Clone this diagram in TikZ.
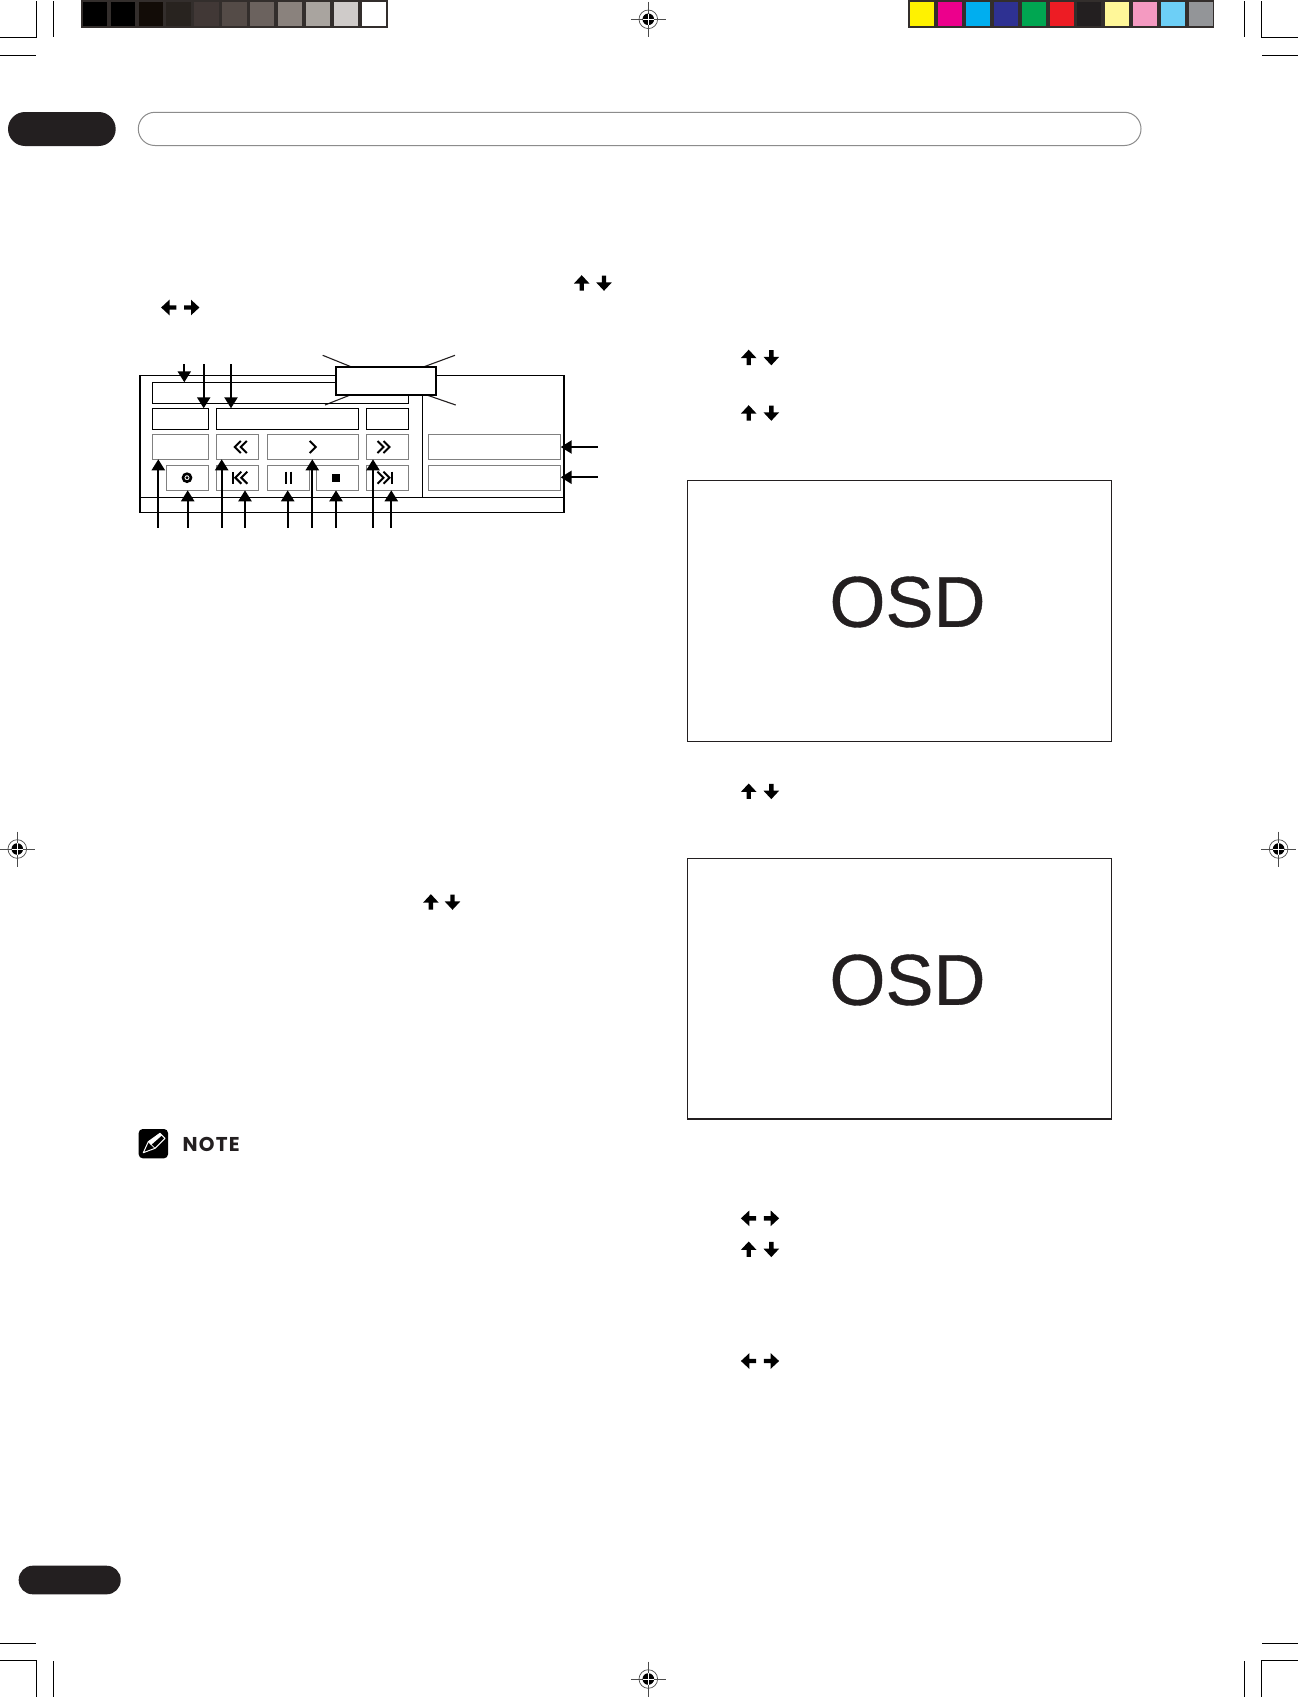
\documentclass[tikz,border=0pt]{standalone}
\usepackage{fontspec}
\usepackage{xcolor}
\usepackage{tikz}
\usetikzlibrary{
  arrows.meta,
  backgrounds
}
\newfontfamily\osdfont[FakeBold=0.5]{Liberation Sans}
\newfontfamily\notefont[LetterSpace=6]{Poppins}
\definecolor{InkDark}{HTML}{231F20}
\definecolor{FrameDark}{HTML}{332E2C}
\definecolor{BoxGray}{HTML}{808080}
\tikzset{
  panelbox/.style={draw=black, line width=1.3pt, anchor=north west, inner sep=0pt, outer sep=0pt},
  softbox/.style={draw=BoxGray, line width=1.2pt, anchor=north west, inner sep=0pt, outer sep=0pt},
  panelline/.style={black, line width=1.3pt},
  callout/.style={black, line width=2.2pt},
  ray/.style={InkDark, line width=1.1pt},
  cropline/.style={black, line width=1pt},
  glyph/.style={black, line width=2pt, miter limit=4},
  osdbox/.style={draw=InkDark, line width=1.3pt, anchor=north west, inner sep=0pt, outer sep=0pt},
  osdtext/.style={InkDark, inner sep=0pt, font=\osdfont\fontsize{72}{72}\selectfont},
  regmark/.pic={
    \draw[black!70, line width=0.7pt] (-17.5,0) -- (17.5,0) (0,-17.5) -- (0,17.5);
    \draw[black!70, line width=0.7pt] (0,0) circle (9.3pt);
    \fill[black] (0,0) circle (5.8pt);
    \draw[white, line width=0.7pt] (-5.8,0) -- (5.8,0) (0,-5.8) -- (0,5.8);
  },
  keyarrow/.pic={
    \fill[black] (0,-7.8) -- (7.8,0.6) -- (2.2,0.6) -- (2.2,7.5) -- (-2.2,7.5) -- (-2.2,0.6) -- (-7.8,0.6) -- cycle;
  },
  chevone/.pic={
    \draw[glyph] (-3,-6) -- (3,0) -- (-3,6);
  },
  chevtwo/.pic={
    \draw[glyph] (-6.5,-6) -- (-0.5,0) -- (-6.5,6);
    \draw[glyph] (-0.5,-6) -- (5.5,0) -- (-0.5,6);
  },
  chevbar/.pic={
    \draw[glyph] (-7.5,-6) -- (-1.5,0) -- (-7.5,6);
    \draw[glyph] (-1.5,-6) -- (4.5,0) -- (-1.5,6);
    \draw[glyph] (6.5,-6) -- (6.5,6);
  }
}

\begin{document}
\begin{tikzpicture}[x=1pt,y=-1pt,
  >={Triangle[width=13pt,length=11pt]}]
  \useasboundingbox (0,0) rectangle (1298,1697);
  \begin{pgfonlayer}{background}
    \fill[white] (0,0) rectangle (1298,1697);
  \end{pgfonlayer}

  % ---------- colour bars ----------
  \fill[FrameDark] (81,0) rectangle (387.7,27.7);
  \foreach \c [count=\i from 0] in {000000,000000,120C07,28231F,413836,544B47,6B625E,8A827D,A9A49F,CFCBC9,FFFFFF} {
    \definecolor{swatch}{HTML}{\c}
    \fill[swatch] ({82.7+27.9*\i},2) rectangle ({107+27.9*\i},26);
  }
  \fill[FrameDark] (908.3,0) rectangle (1214,27.7);
  \foreach \c [count=\i from 0] in {FFF200,EC008C,00AEEF,2E3192,00A651,ED1C24,231F20,FFF799,F49AC1,6DCFF6,939598} {
    \definecolor{swatch}{HTML}{\c}
    \fill[swatch] ({910+27.9*\i},2) rectangle ({934+27.9*\i},26);
  }

  % ---------- crop marks ----------
  \draw[cropline] (36.3,1) -- (36.3,37) -- (0,37);
  \draw[cropline] (53.3,1) -- (53.3,36.7);
  \draw[cropline] (0,55.3) -- (36,55.3);
  \draw[cropline] (1261.7,1) -- (1261.7,37) -- (1298,37);
  \draw[cropline] (1244.3,1) -- (1244.3,36.7);
  \draw[cropline] (1262,55.3) -- (1298,55.3);
  \draw[cropline] (36.3,1697) -- (36.3,1660) -- (0,1660);
  \draw[cropline] (53.3,1661) -- (53.3,1697);
  \draw[cropline] (0,1643.3) -- (36,1643.3);
  \draw[cropline] (1261.5,1697) -- (1261.5,1660.3) -- (1298,1660.3);
  \draw[cropline] (1244.3,1661) -- (1244.3,1697);
  \draw[cropline] (1262,1643.3) -- (1298,1643.3);

  % registration marks
  \foreach \x/\y in {648.3/19.3,17.3/849,1278.6/849,648.3/1679}
    \pic at (\x,\y) {regmark};

  % ---------- header and footer bars ----------
  \fill[InkDark, rounded corners=17pt] (8,112) rectangle (115.7,146);
  \draw[black!45, line width=1pt, rounded corners=16.5pt] (138.3,112.3) rectangle (1141,145.5);
  \fill[InkDark, rounded corners=14pt] (18.7,1565.7) rectangle (120.7,1594.3);

  % ---------- key arrows ----------
  \foreach \x/\y/\a in {581.7/283/0,604/283/180,168.9/307.5/90,191.6/307.5/-90,
      748.7/357.5/0,771.3/357.5/180,748.7/413/0,771.3/413/180,748.7/791.3/0,771.3/791.3/180,
      430.9/902/0,452.5/902/180,748.7/1218.3/90,771.3/1218.3/-90,748.7/1249.3/0,771.3/1249.3/180,
      748.7/1361/90,771.3/1361/-90}
    \pic[rotate=\a] at (\x,\y) {keyarrow};

  % ---------- control panel ----------
  \node[panelbox, minimum width=424pt, minimum height=137pt] (panel) at (140,375.3) {};
  \coordinate (divfoot) at (422.3,497.3);
  \draw[panelline] (panel.west |- divfoot) -- (panel.east |- divfoot);
  \draw[panelline] (panel.north -| divfoot) -- (divfoot);

  \foreach \n/\x/\y/\w/\h in {title/152.3/382.3/256/21,chapter/152.3/408.3/56.4/21,
      clock/216.3/408.3/142.4/21,track/366.3/408.3/42/21}
    \node[panelbox, minimum width=\w pt, minimum height=\h pt] (\n) at (\x,\y) {};

  \foreach \n/\x/\y/\w/\h in {mode/152.3/434.3/56.4/25,rewind/216.3/434.3/42.4/25,
      play/267.3/434.3/91.4/25,forward/366.3/434.3/42/25,
      record/166.3/465.3/42.4/25,prev/216.3/465.3/42.4/25,pause/267.3/465.3/42.4/25,
      stop/316.3/465.3/42.4/25,next/366.3/465.3/42/25,
      listtop/428.3/434.3/132.4/25,listend/428.3/465.3/132.4/25}
    \node[softbox, minimum width=\w pt, minimum height=\h pt] (\n) at (\x,\y) {};

  % transport glyphs
  \pic[rotate=180] at (240.3,447) {chevtwo};
  \pic at (312.7,447) {chevone};
  \pic at (384,447) {chevtwo};
  \pic[rotate=180] at (239.8,477.7) {chevbar};
  \pic at (385,477.7) {chevbar};
  \draw[black, line width=2.6pt] (187,477.7) circle (4pt);
  \fill[black] (187,477.7) circle (1.6pt);
  \draw[black, line width=2pt] (285.7,471.7) -- (285.7,483.5) (291,471.7) -- (291,483.5);
  \fill[black] (332.3,473.5) rectangle (340,481.7);

  % highlighted window with its rays
  \node[panelbox, fill=white, line width=2.2pt, minimum width=100.3pt, minimum height=28.3pt] (hilite) at (335.7,366.7) {};
  \coordinate (rayA) at (322.7,355.3);
  \coordinate (rayB) at (455,355.3);
  \coordinate (rayC) at (325,405);
  \coordinate (rayD) at (455.7,405);
  \begin{pgfonlayer}{background}
    \foreach \r in {rayA,rayB,rayC,rayD}
      \draw[ray] (\r) -- (hilite.center);
  \end{pgfonlayer}

  % ---------- callout arrows ----------
  \coordinate (dnA) at (184.3,364);
  \coordinate (dnB) at (203.7,364);
  \coordinate (dnC) at (231,364);
  \draw[callout,->] (dnA) -- (dnA |- title.north);
  \draw[callout,->] (dnB) -- (dnB |- chapter.north);
  \draw[callout,->] (dnC) -- (dnC |- clock.north);

  \foreach \x/\t [count=\i] in {158.3/mode,187.7/record,221.7/rewind,245/prev,287.7/pause,
      312.3/play,336/stop,373/forward,391.3/next} {
    \coordinate (up\i) at (\x,527.7);
    \draw[callout,->] (up\i) -- (up\i |- \t.south);
  }

  \coordinate (inA) at (597.7,447);
  \coordinate (inB) at (597.7,477.3);
  \draw[callout,->] (inA) -- (listtop.east |- inA);
  \draw[callout,->] (inB) -- (listend.east |- inB);

  % ---------- OSD screens ----------
  \node[osdbox, minimum width=424.5pt, minimum height=261pt] (screenA) at (687.3,480.3) {};
  \node[osdbox, minimum width=424.5pt, minimum height=260.7pt] (screenB) at (687.3,858.3) {};
  \node[osdtext] (osdA) at (907.5,602) {OSD};
  \node[osdtext] (osdB) at (907.5,980) {OSD};

  % ---------- note icon ----------
  \fill[black, rounded corners=4pt] (138.7,1129) rectangle (168,1158.3);
  \draw[white, line width=1pt, line join=round] (143.3,1152.7) -- (148.3,1141.7) -- (160,1133.3) -- (165,1138.3) -- (155,1148.3) -- cycle;
  \fill[white] (148.3,1141.7) -- (160,1133.3) -- (162,1135.3) -- (151,1145) -- cycle;
  \draw[white, line width=0.8pt] (148.3,1141.7) -- (155,1148.3);
  \node[InkDark, anchor=west, inner sep=0pt, font=\notefont\bfseries\fontsize{20}{20}\selectfont] (notelabel) at (182.5,1144) {NOTE};
\end{tikzpicture}
\end{document}
